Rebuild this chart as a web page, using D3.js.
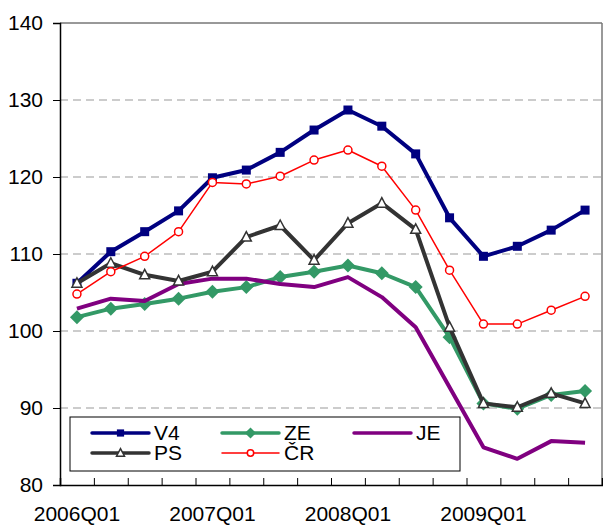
<!DOCTYPE html>
<html>
<head>
<meta charset="utf-8">
<script src="https://cdn.jsdelivr.net/npm/d3@7"></script>
<style>
  body { margin: 0; background: #fff; }
  svg { font-family: "Liberation Sans", Arial, sans-serif; }
</style>
</head>
<body>
<svg id="chart" width="603" height="525"></svg>
<script>
// quarters 2006Q1 .. 2009Q4
var quarters = ["2006Q01","2006Q02","2006Q03","2006Q04","2007Q01","2007Q02","2007Q03","2007Q04",
                "2008Q01","2008Q02","2008Q03","2008Q04","2009Q01","2009Q02","2009Q03","2009Q04"];
var shownLabels = ["2006Q01","2007Q01","2008Q01","2009Q01"];
var yTicks = [80, 90, 100, 110, 120, 130, 140];

var v4 = [106.2,110.3,112.9,115.6,119.9,120.9,123.2,126.1,128.7,126.6,123.0,114.7,109.7,111.0,113.1,115.7];
var ze = [101.8,102.9,103.5,104.2,105.1,105.7,107.0,107.7,108.5,107.5,105.7,99.2,90.6,89.9,91.7,92.2];
var je = [102.9,104.2,103.9,106.1,106.8,106.8,106.1,105.7,107.0,104.4,100.5,92.7,84.9,83.4,85.7,85.5];
var ps = [106.2,108.8,107.3,106.5,107.7,112.2,113.7,109.2,114.0,116.6,113.2,100.5,90.6,90.1,91.9,90.6];
var cr = [104.8,107.7,109.7,112.9,119.3,119.1,120.1,122.2,123.5,121.4,115.7,107.9,100.9,100.9,102.7,104.5];

var series = [
  {name: "V4", values: v4, color: "#000080", width: 4, marker: "square"},
  {name: "ZE", values: ze, color: "#339966", width: 4, marker: "diamond"},
  {name: "JE", values: je, color: "#800080", width: 4, marker: null},
  {name: "PS", values: ps, color: "#333333", width: 4, marker: "triangle"},
  {name: "ČR", values: cr, color: "#ff0000", width: 1.5, marker: "circle"}
];

var svg = d3.select("#chart");
var mLeft = 60, mRight = 602, mTop = 23, mBottom = 485;

var x = d3.scaleBand().domain(quarters).range([mLeft, mRight]).paddingInner(0).paddingOuter(0);
var xb = d3.scaleLinear().domain([0, quarters.length]).range([mLeft, mRight]);
var y = d3.scaleLinear().domain([80, 140]).range([mBottom, mTop]);

// gridlines
svg.append("g").selectAll("line")
  .data(yTicks.filter(function(d) { return d > 80 && d < 140; }))
  .enter().append("line")
  .attr("x1", mLeft).attr("x2", mRight)
  .attr("y1", function(d) { return y(d); }).attr("y2", function(d) { return y(d); })
  .attr("stroke", "#999").attr("stroke-dasharray", "8,5");

// frame (top/right)
svg.append("line").attr("x1", mLeft).attr("x2", mRight).attr("y1", mTop).attr("y2", mTop)
  .attr("stroke", "#333").attr("stroke-width", 1);
svg.append("line").attr("x1", mRight).attr("x2", mRight).attr("y1", mTop).attr("y2", mBottom)
  .attr("stroke", "#777").attr("stroke-width", 1.5);

// y axis
var yAxis = svg.append("g").attr("transform", "translate(" + mLeft + ",0)")
  .call(d3.axisLeft(y).tickValues(yTicks).tickSize(7).tickPadding(10));
yAxis.select(".domain").attr("stroke", "#000").attr("stroke-width", 1.5);
yAxis.selectAll("text").attr("font-size", 21).attr("fill", "#000");

// x axis: ticks at category boundaries pointing inward
var xAxis = svg.append("g").attr("transform", "translate(0," + mBottom + ")")
  .call(d3.axisBottom(xb).tickValues(d3.range(1, quarters.length)).tickSize(-7).tickFormat(""));
xAxis.select(".domain").attr("stroke", "#000").attr("stroke-width", 1.5);

var xLabels = svg.append("g").attr("transform", "translate(0," + mBottom + ")")
  .call(d3.axisBottom(x).tickValues(shownLabels).tickSize(0).tickPadding(21));
xLabels.select(".domain").remove();
xLabels.selectAll("text").attr("font-size", 21).attr("fill", "#000");

function cx(i) { return x(quarters[i]) + x.bandwidth() / 2; }

function drawMarker(g, type, color, px, py, k) {
  k = k || 1;
  if (type === "square") {
    var h = 4.5 * k;
    g.append("rect").attr("x", px - h).attr("y", py - h).attr("width", 2 * h).attr("height", 2 * h)
      .attr("fill", color);
  } else if (type === "diamond") {
    var d = 7 * k;
    g.append("path").attr("d", "M" + px + "," + (py - d) + "L" + (px + d) + "," + py + "L" + px + "," + (py + d) + "L" + (px - d) + "," + py + "Z")
      .attr("fill", color);
  } else if (type === "triangle") {
    g.append("path").attr("d", "M" + px + "," + (py - 5.5 * k) + "L" + (px + 5 * k) + "," + (py + 4 * k) + "L" + (px - 5 * k) + "," + (py + 4 * k) + "Z")
      .attr("fill", "#fff").attr("stroke", color).attr("stroke-width", 1.5);
  } else if (type === "circle") {
    g.append("circle").attr("cx", px).attr("cy", py).attr("r", 4 * k)
      .attr("fill", "#fff").attr("stroke", color).attr("stroke-width", 1.5);
  }
}

var line = d3.line()
  .x(function(d, i) { return cx(i); })
  .y(function(d) { return y(d); });

series.forEach(function(s) {
  var g = svg.append("g");
  g.append("path").datum(s.values).attr("d", line)
    .attr("fill", "none").attr("stroke", s.color).attr("stroke-width", s.width)
    .attr("stroke-linejoin", "round");
  if (s.marker) {
    s.values.forEach(function(v, i) { drawMarker(g, s.marker, s.color, cx(i), y(v)); });
  }
});

// legend
var lg = svg.append("g");
lg.append("rect").attr("x", 70).attr("y", 417).attr("width", 390).attr("height", 54)
  .attr("fill", "#fff").attr("stroke", "#000").attr("stroke-width", 1);
var legendPos = [
  {x: 92, y: 433}, {x: 222, y: 433}, {x: 354, y: 433},
  {x: 92, y: 453}, {x: 222, y: 453}
];
series.forEach(function(s, i) {
  var p = legendPos[i];
  lg.append("line").attr("x1", p.x).attr("x2", p.x + 57).attr("y1", p.y).attr("y2", p.y)
    .attr("stroke", s.color).attr("stroke-width", s.width > 2 ? 3.5 : s.width).attr("stroke-linecap", "round");
  if (s.marker) drawMarker(lg, s.marker, s.color, p.x + 28.5, p.y, 0.8);
  lg.append("text").attr("x", p.x + 62).attr("y", p.y + 7).attr("font-size", 21)
    .attr("fill", "#000").text(s.name);
});
</script>
</body>
</html>
